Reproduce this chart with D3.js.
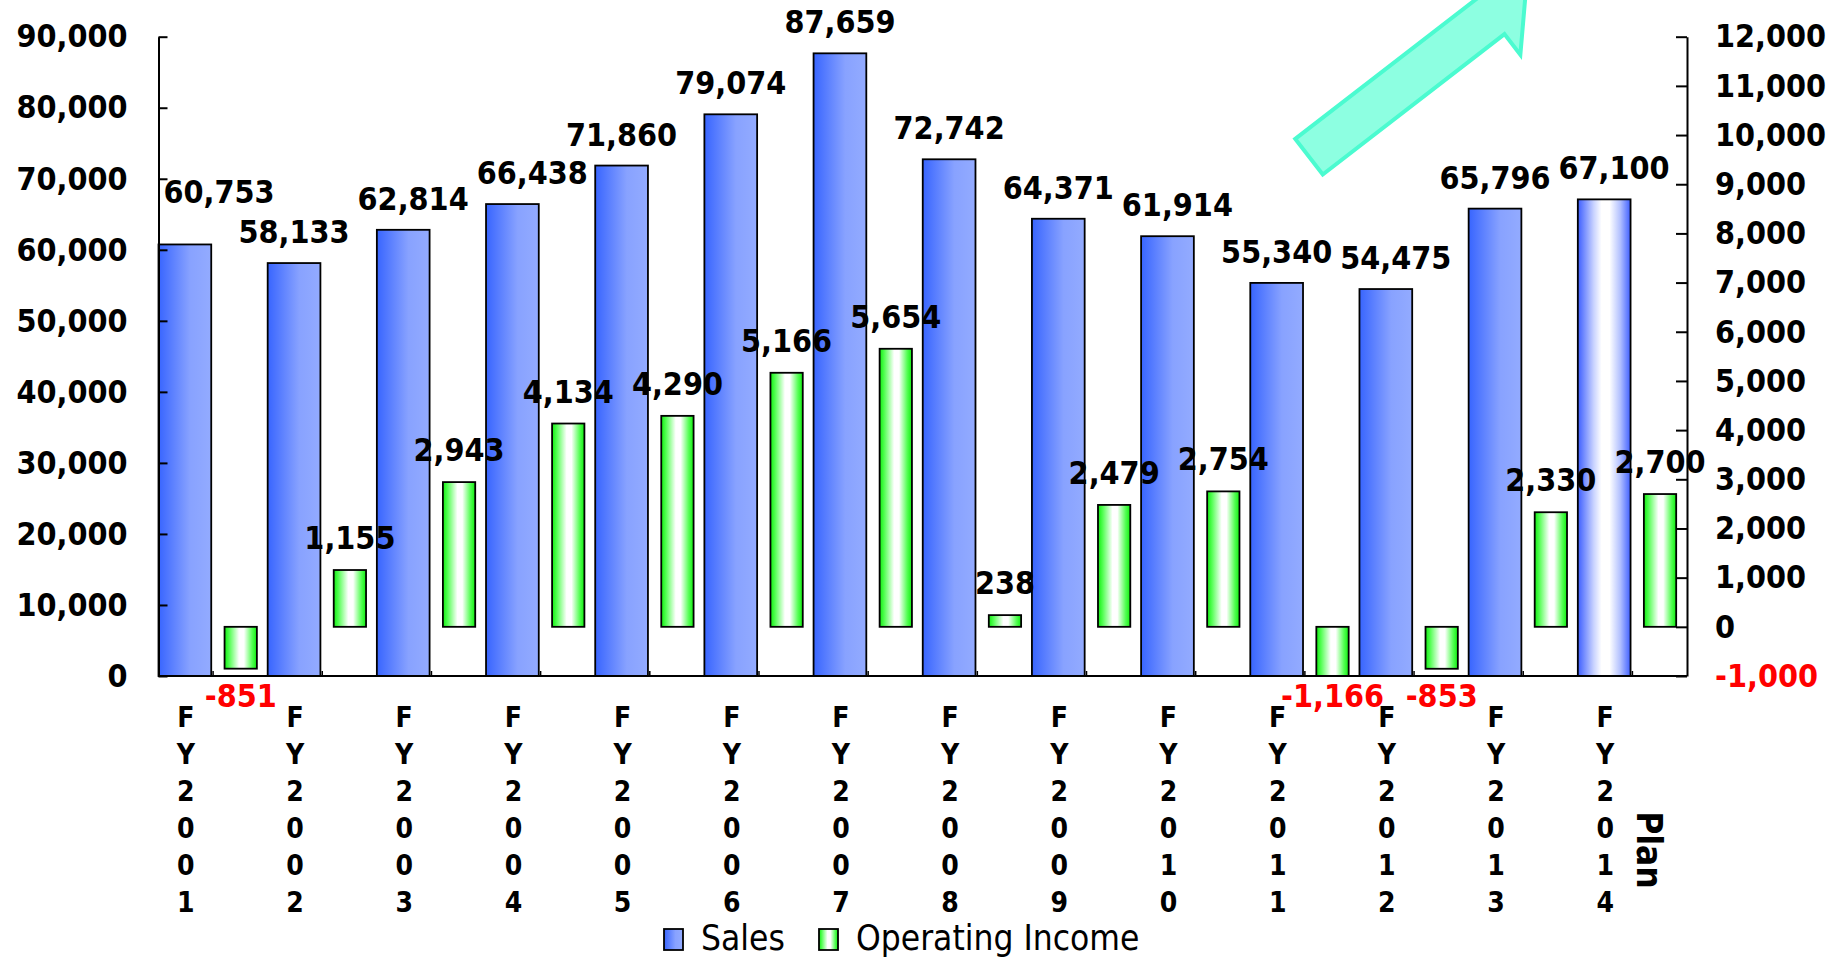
<!DOCTYPE html>
<html><head><meta charset="utf-8">
<script src="https://cdn.jsdelivr.net/npm/d3@7"></script>
<style>
html,body{margin:0;padding:0;background:#fff;overflow:hidden}
svg{display:block}
text{font-family:"DejaVu Sans Condensed","DejaVu Sans",sans-serif;font-stretch:condensed}
</style></head><body>
<svg id="chart" width="1839" height="958"></svg>
<script>
// ---- data ----
const categories = ["FY2001","FY2002","FY2003","FY2004","FY2005","FY2006","FY2007","FY2008","FY2009","FY2010","FY2011","FY2012","FY2013","FY2014"];
const sales = [60753,58133,62814,66438,71860,79074,87659,72742,64371,61914,55340,54475,65796,67100];
const operatingIncome = [-851,1155,2943,4134,4290,5166,5654,238,2479,2754,-1166,-853,2330,2700];
const salesTicks = [0,10000,20000,30000,40000,50000,60000,70000,80000,90000];
const incomeTicks = [-1000,0,1000,2000,3000,4000,5000,6000,7000,8000,9000,10000,11000,12000];
const seriesNames = ["Sales","Operating Income"];
const planCategory = "FY2014";
const planLabel = "Plan";

// ---- layout ----
const W = 1839, H = 958;
const xL = 158.5, xR = 1687, yT = 36.7, yB = 676;
const fmt = d3.formatLocale({decimal: ".", thousands: ",", grouping: [3], currency: ["", ""], minus: "-"}).format(",");
const svg = d3.select("#chart");

const x = d3.scaleBand().domain(categories).range([xL, xR]).padding(0);
const bw = x.bandwidth();
const yS = d3.scaleLinear().domain([0, 90000]).range([yB, yT]);
const yI = d3.scaleLinear().domain([-1000, 12000]).range([yB, yT]);

const salesOff = 0, salesW = bw * 0.483;
const incOff = bw * 0.605, incW = bw * 0.296;

// ---- gradients ----
const defs = svg.append("defs");
function grad(id, stops) {
  const g = defs.append("linearGradient").attr("id", id).attr("x1", 0).attr("x2", 1).attr("y1", 0).attr("y2", 0);
  stops.forEach(s => g.append("stop").attr("offset", s[0]).attr("stop-color", s[1]));
}
grad("gSales", [[0, "#3865ff"], [0.6, "#88a2ff"], [1, "#93abff"]]);
grad("gPlan", [[0, "#3d5eff"], [0.3, "#c8d2ff"], [0.45, "#ffffff"], [0.6, "#ffffff"], [0.8, "#b4c2ff"], [1, "#3f5fff"]]);
grad("gInc", [[0, "#10ee10"], [0.15, "#55ff55"], [0.45, "#ffffff"], [0.6, "#ffffff"], [0.85, "#55ff55"], [1, "#10ee10"]]);

// ---- sales bars ----
svg.append("g").selectAll("rect").data(categories.map((c, i) => ({c, v: sales[i]})))
  .join("rect")
  .attr("x", d => x(d.c) + salesOff)
  .attr("y", d => yS(d.v))
  .attr("width", salesW)
  .attr("height", d => yS(0) - yS(d.v))
  .attr("fill", d => d.c === planCategory ? "url(#gPlan)" : "url(#gSales)")
  .attr("stroke", "#000").attr("stroke-width", 1.8);

// ---- operating income bars ----
svg.append("g").selectAll("rect").data(categories.map((c, i) => ({c, v: operatingIncome[i]})))
  .join("rect")
  .attr("x", d => x(d.c) + incOff)
  .attr("y", d => Math.min(yI(d.v), yI(0)))
  .attr("width", incW)
  .attr("height", d => Math.abs(Math.min(yI(d.v), yB) - yI(0)))
  .attr("fill", "url(#gInc)")
  .attr("stroke", "#000").attr("stroke-width", 1.8);

// ---- arrow decoration ----
(function () {
  const ang = Math.atan2(-0.611, 0.791);
  const u = [Math.cos(ang), Math.sin(ang)], n = [-u[1], u[0]];
  const tail = [1309, 156.7], shaftLen = 229.6, half = 22.5, headHalf = 48.5, headLen = 44.6;
  const B = [tail[0] + u[0] * shaftLen, tail[1] + u[1] * shaftLen];
  const P = (p, k, v) => [p[0] + k * v[0], p[1] + k * v[1]];
  const pts = [P(tail, -half, n), P(B, -half, n), P(B, -headHalf, n), P(B, headLen, u), P(B, headHalf, n), P(B, half, n), P(tail, half, n)];
  svg.append("polygon").attr("points", pts.map(p => p.join(",")).join(" "))
    .attr("fill", "#8dffe1").attr("stroke", "#4bfbd0").attr("stroke-width", 4).attr("stroke-linejoin", "miter");
})();

// ---- axes ----
const axL = svg.append("g").attr("transform", `translate(${xL},0)`)
  .call(d3.axisLeft(yS).tickValues(salesTicks).tickFormat(fmt).tickSizeInner(-9).tickSizeOuter(0).tickPadding(31));
const axR = svg.append("g").attr("transform", `translate(${xR},0)`)
  .call(d3.axisRight(yI).tickValues(incomeTicks).tickFormat(fmt).tickSizeInner(-11).tickSizeOuter(0).tickPadding(28));
[axL, axR].forEach(a => {
  a.select(".domain").attr("stroke", "#000").attr("stroke-width", 2);
  a.selectAll(".tick line").attr("stroke", "#000").attr("stroke-width", 2);
  a.selectAll(".tick text").attr("font-size", 32).attr("font-weight", "bold").attr("fill", "#000")
    .attr("font-family", null);
});
axR.selectAll(".tick text").attr("fill", d => d < 0 ? "#ff0000" : "#000");

// bottom axis
svg.append("line").attr("x1", xL).attr("x2", xR).attr("y1", yB).attr("y2", yB)
  .attr("stroke", "#000").attr("stroke-width", 2.2);
svg.append("g").selectAll("line").data(categories).join("line")
  .attr("x1", d => x(d) + bw / 2).attr("x2", d => x(d) + bw / 2)
  .attr("y1", yB).attr("y2", yB - 5).attr("stroke", "#000").attr("stroke-width", 1.5);

// category labels (stacked letters)
const catG = svg.append("g");
categories.forEach(c => {
  const t = catG.append("text").attr("font-size", 28).attr("font-weight", "bold").attr("text-anchor", "middle");
  c.split("").forEach((ch, k) => {
    t.append("tspan").attr("x", x(c) + salesOff + salesW / 2 + 1).attr("y", 727 + k * 37).text(ch);
  });
});
// plan label
svg.append("text").attr("font-size", 35).attr("font-weight", "bold").attr("text-anchor", "middle")
  .attr("dominant-baseline", "central")
  .attr("transform", `translate(${x(planCategory) + bw * 0.655},850) rotate(90)`)
  .text(planLabel);

// ---- data labels ----
const lblG = svg.append("g");
const salesLabels = [];
categories.forEach((c, i) => {
  const cx = x(c) + salesOff + salesW / 2;
  const t = lblG.append("text").attr("font-size", 32).attr("font-weight", "bold").attr("text-anchor", "middle")
    .attr("x", cx).attr("y", yS(sales[i]) - 20).text(fmt(sales[i]));
  const w = t.node().getComputedTextLength();
  if (cx - w / 2 < xL + 5) t.attr("x", xL + 5 + w / 2);
  salesLabels.push(t);
});
// resolve collisions between neighbouring sales labels
for (let i = 1; i < salesLabels.length; i++) {
  const a = salesLabels[i - 1].node().getBBox(), b = salesLabels[i].node().getBBox();
  const hov = a.x + a.width + 4 - b.x;
  const vov = Math.min(a.y + a.height, b.y + b.height) - Math.max(a.y, b.y);
  if (hov > 0 && vov > 0) {
    if (hov <= 16) {
      salesLabels[i].attr("x", +salesLabels[i].attr("x") + hov + 4);
    } else {
      const up = (a.y + a.height) - b.y + 2;
      salesLabels[i - 1].attr("y", +salesLabels[i - 1].attr("y") - (a.y < b.y ? up : 0));
    }
  }
}
categories.forEach((c, i) => {
  const v = operatingIncome[i];
  const cx = x(c) + incOff + incW / 2;
  lblG.append("text").attr("font-size", 32).attr("font-weight", "bold").attr("text-anchor", "middle")
    .attr("x", cx)
    .attr("y", v >= 0 ? yI(v) - 21 : yB + 31)
    .attr("fill", v < 0 ? "#ff0000" : "#000")
    .text(fmt(v));
});

// ---- legend ----
const lg = svg.append("g");
const legendItems = [{name: seriesNames[0], fill: "url(#gSales)", x: 664}, {name: seriesNames[1], fill: "url(#gInc)", x: 819}];
legendItems.forEach(it => {
  lg.append("rect").attr("x", it.x).attr("y", 929).attr("width", 19).attr("height", 21)
    .attr("fill", it.fill).attr("stroke", "#000").attr("stroke-width", 1.8);
  lg.append("text").attr("x", it.x + 37).attr("y", 950).attr("font-size", 35).attr("fill", "#000").text(it.name);
});
</script>
</body></html>
